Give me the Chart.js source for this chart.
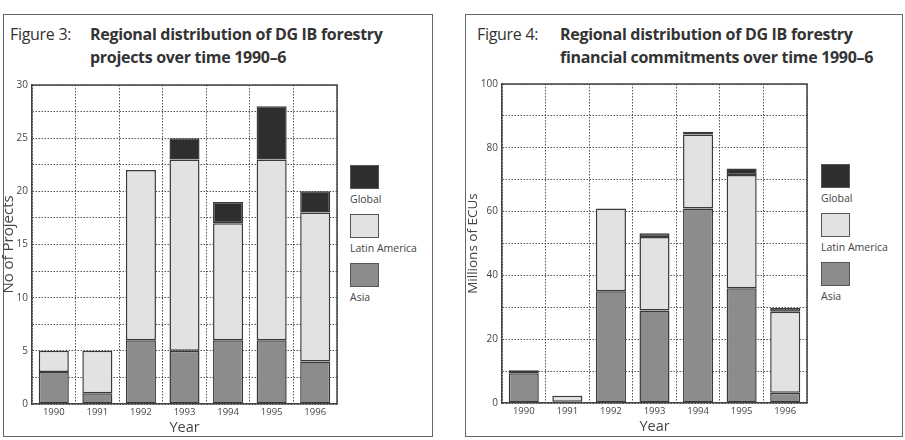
<!DOCTYPE html>
<html lang="en">
<head>
  <meta charset="UTF-8">
  <title>DG IB forestry projects 1990-6</title>
  <script src="https://cdn.jsdelivr.net/npm/chart.js"></script>
  <style>
    body { margin: 0; background: #fff; font-family: "Open Sans", sans-serif; color: #3a3a3a; }
    .painel { position: absolute; top: 14px; border: 1.5px solid #666; box-sizing: border-box; }
    .titulo { position: absolute; font-size: 16px; line-height: 23px; letter-spacing: -0.3px; color: #333; }
    .titulo b { font-weight: 700; }
    .holder { position: absolute; }
    .legenda { position: absolute; font-size: 10.5px; color: #444; }
    .legenda .caixa { width: 29px; height: 24px; border: 1.5px solid #555; box-sizing: border-box; }
    .legenda .txt { margin: 4px 0 9px 0; height: 12px; line-height: 12px; white-space: nowrap; }
  </style>
</head>
<body>
  <div class="painel" style="left:3px; width:430px; height:423px;"></div>
  <div class="painel" style="left:465px; width:438px; height:423px;"></div>

  <div class="titulo" style="left:10px; top:23px;">Figure 3:</div>
  <div class="titulo" style="left:90px; top:23px;"><b>Regional distribution of DG IB forestry<br>projects over time 1990–6</b></div>
  <div class="titulo" style="left:477px; top:23px;">Figure 4:</div>
  <div class="titulo" style="left:560px; top:23px;"><b>Regional distribution of DG IB forestry<br>financial commitments over time 1990–6</b></div>

  <div class="holder" style="left:0px; top:75px; width:345px; height:362px;"><canvas id="fig3"></canvas></div>
  <div class="holder" style="left:465px; top:74px; width:350px; height:362px;"><canvas id="fig4"></canvas></div>

  <div class="legenda" style="left:350px; top:165px;">
    <div class="caixa" style="background:#2e2e2e"></div><div class="txt">Global</div>
    <div class="caixa" style="background:#e2e2e2"></div><div class="txt">Latin America</div>
    <div class="caixa" style="background:#8c8c8c"></div><div class="txt">Asia</div>
  </div>
  <div class="legenda" style="left:821px; top:164px;">
    <div class="caixa" style="background:#2e2e2e"></div><div class="txt">Global</div>
    <div class="caixa" style="background:#e2e2e2"></div><div class="txt">Latin America</div>
    <div class="caixa" style="background:#8c8c8c"></div><div class="txt">Asia</div>
  </div>

  <script>
    const anos = ['1990', '1991', '1992', '1993', '1994', '1995', '1996'];

    // Figure 3: numero de projetos
    const projAsia = [3, 1, 6, 5, 6, 6, 4];
    const projAmLatina = [2, 4, 16, 18, 11, 17, 14];
    const projGlobal = [null, null, null, 2, 2, 5, 2];

    // Figure 4: milhoes de ECUs
    const ecuAsia = [9.3, 0.4, 35, 29, 61, 36, 3.2];
    const ecuAmLatina = [1, 1.9, 26, 23, 23.2, 35.5, 25.4];
    const ecuGlobal = [null, null, null, 1.2, 0.8, 2, 1.2];

    const corAsia = '#8c8c8c';
    const corAmLatina = '#e2e2e2';
    const corGlobal = '#2e2e2e';

    // moldura do topo e da direita da area do grafico
    const moldura = {
      id: 'moldura',
      afterDraw(chart) {
        const a = chart.chartArea, ctx = chart.ctx;
        ctx.save();
        ctx.strokeStyle = '#444';
        ctx.lineWidth = 1.5;
        ctx.beginPath();
        ctx.moveTo(a.left, a.top);
        ctx.lineTo(a.right, a.top);
        ctx.lineTo(a.right, a.bottom);
        ctx.stroke();
        ctx.restore();
      }
    };

    function serie(label, data, cor) {
      return {
        label: label,
        data: data,
        backgroundColor: cor,
        borderColor: '#3a3a3a',
        borderWidth: 1.5,
        borderSkipped: false,
        categoryPercentage: 1,
        barPercentage: 0.69
      };
    }

    function montar(id, asia, amLat, glob, max, passo, rotulo, tituloY, tamY, largY) {
      new Chart(document.getElementById(id), {
        type: 'bar',
        data: {
          labels: anos,
          datasets: [
            serie('Asia', asia, corAsia),
            serie('Latin America', amLat, corAmLatina),
            serie('Global', glob, corGlobal)
          ]
        },
        options: {
          responsive: true,
          maintainAspectRatio: false,
          animation: false,
          layout: { padding: { top: 10, right: 8, left: 0, bottom: 0 } },
          plugins: { legend: { display: false }, tooltip: { enabled: false } },
          scales: {
            x: {
              stacked: true,
              grid: { color: '#555', lineWidth: 1, offset: true, drawTicks: false },
              border: { color: '#444', width: 1.5, dash: [1.5, 1.5] },
              ticks: { color: '#444', font: { family: 'Open Sans', size: 9.5 }, padding: 3 },
              title: { display: true, text: 'Year', color: '#444', font: { family: 'Open Sans', size: 14.5 }, padding: 0 },
              afterFit(s) { s.height = 33; }
            },
            y: {
              stacked: true,
              min: 0,
              max: max,
              grid: { color: '#555', lineWidth: 1, drawTicks: false },
              border: { color: '#444', width: 1.5, dash: [1.5, 1.5] },
              ticks: {
                stepSize: passo,
                color: '#444',
                padding: 4,
                font: { family: 'Open Sans', size: 10 },
                callback: v => (v % rotulo === 0 ? v : '')
              },
              title: { display: true, text: tituloY, color: '#444', font: { family: 'Open Sans', size: tamY }, padding: 0 },
              afterFit(s) { s.width = largY; }
            }
          }
        },
        plugins: [moldura]
      });
    }

    montar('fig3', projAsia, projAmLatina, projGlobal, 30, 2.5, 5, 'No of Projects', 15, 32);
    montar('fig4', ecuAsia, ecuAmLatina, ecuGlobal, 100, 10, 20, 'Millions of ECUs', 13.5, 37);
  </script>
</body>
</html>
